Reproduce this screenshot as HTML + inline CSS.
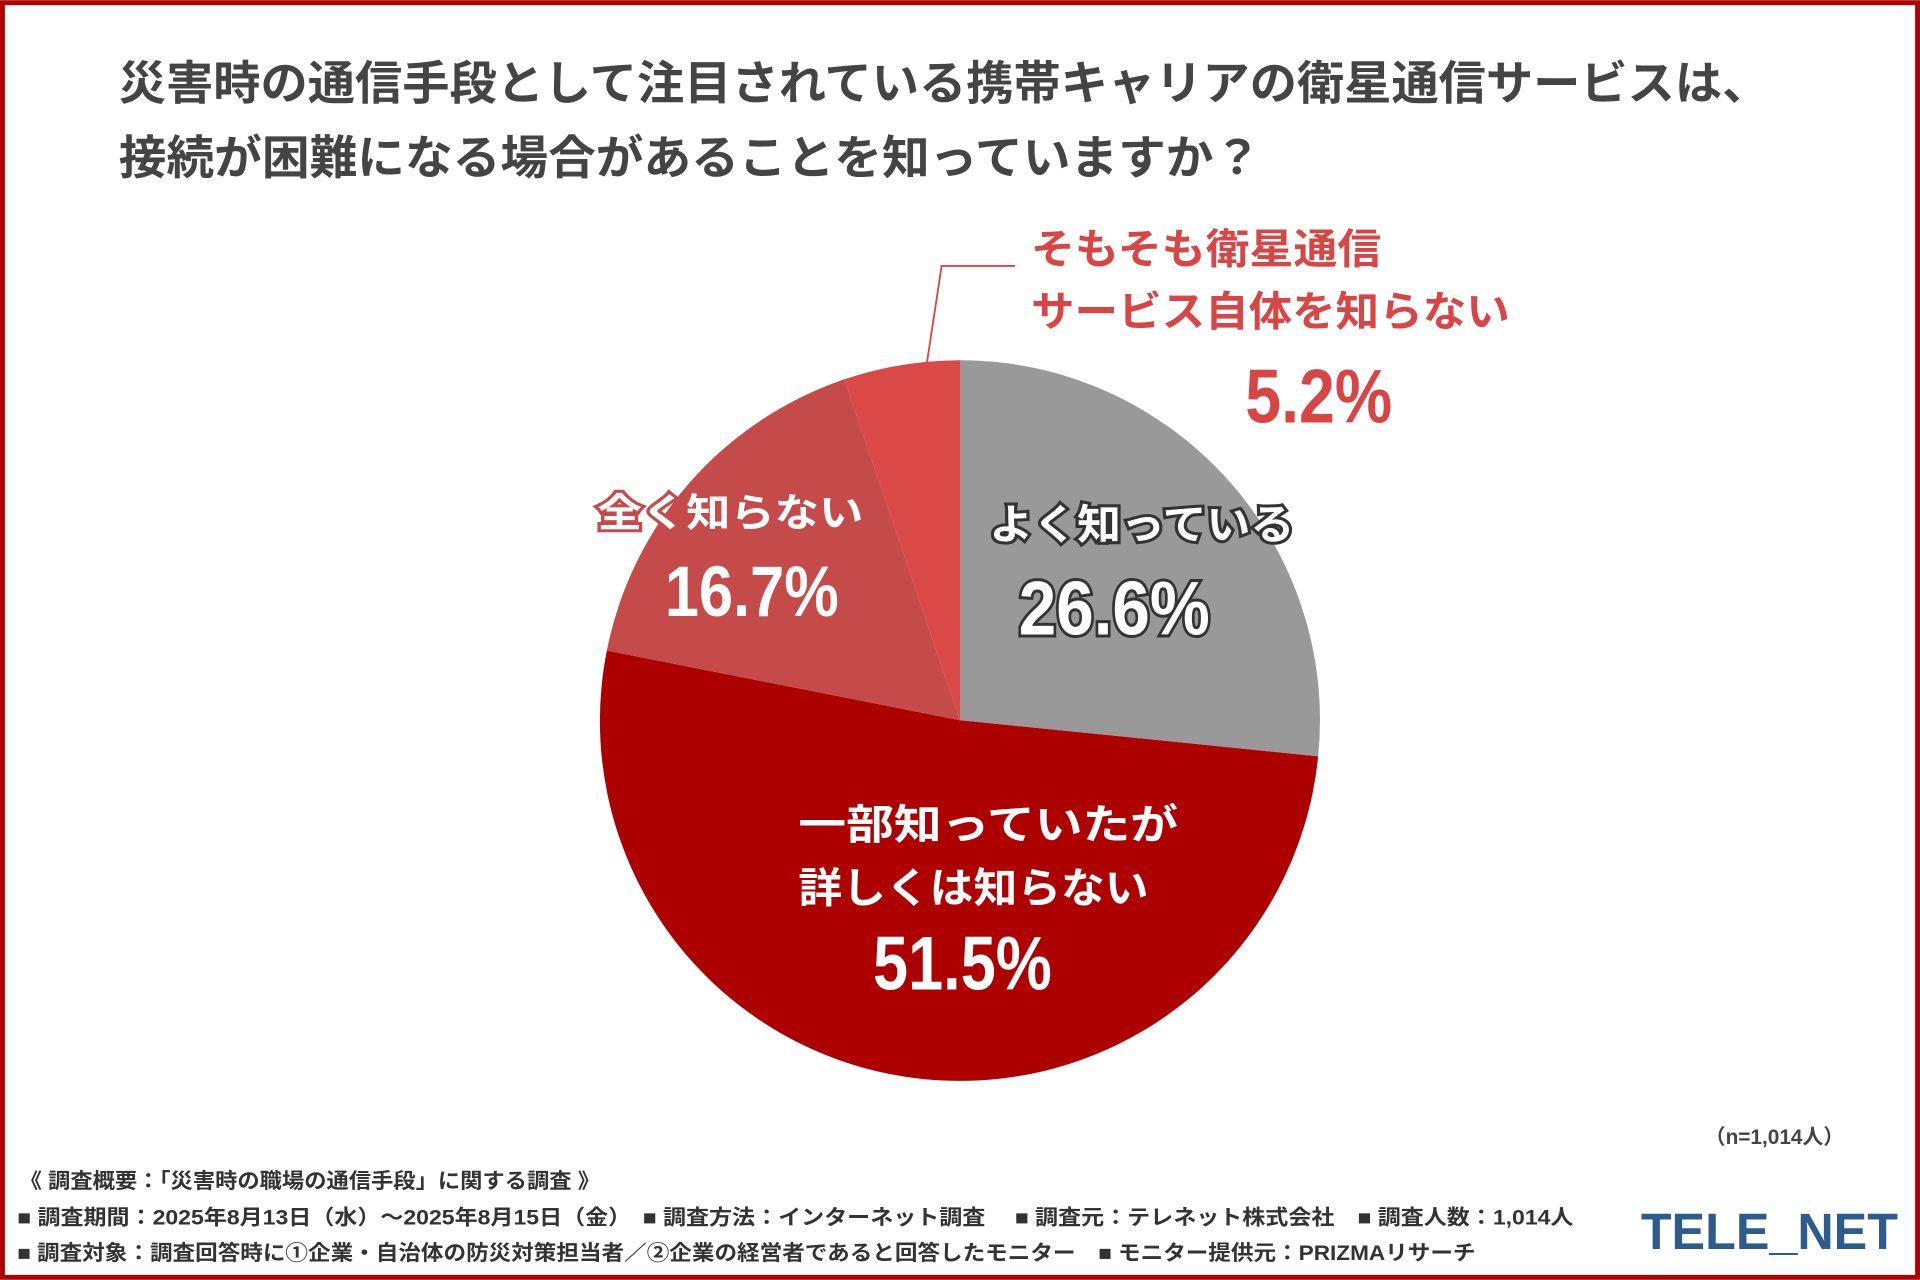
<!DOCTYPE html>
<html><head><meta charset="utf-8"><style>
html,body{margin:0;padding:0;background:#fff}
svg{display:block}
text{font-family:"Liberation Sans","Noto Sans CJK JP",sans-serif;font-weight:bold}
</style></head><body>
<svg width="1920" height="1280" viewBox="0 0 1568 1045" xmlns="http://www.w3.org/2000/svg">
<rect x="0" y="0" width="1568" height="1045" fill="#fff"/>
<rect x="2" y="2" width="1564" height="1041" fill="none" stroke="#b00000" stroke-width="4"/>
<text x="97" y="81" font-size="38" fill="#444" textLength="1348" lengthAdjust="spacingAndGlyphs">災害時の通信手段として注目されている携帯キャリアの衛星通信サービスは、</text>
<text x="97" y="142" font-size="38" fill="#444" textLength="933" lengthAdjust="spacingAndGlyphs">接続が困難になる場合があることを知っていますか？</text>
<path d="M784 588 L784 294 A294 294 0 0 1 1076.5 617.5 Z" fill="#999999"/>
<path d="M784 588 L1076.5 617.5 A294 294 0 1 1 495.6 531.1 Z" fill="#ad0000"/>
<path d="M784 588 L495.6 531.1 A294 294 0 0 1 689.6 309.6 Z" fill="#c54b4b"/>
<path d="M784 588 L689.6 309.6 A294 294 0 0 1 784 294 Z" fill="#db4848"/>
<polyline points="757,296 769,217 829,217" fill="none" stroke="#d94545" stroke-width="1.5"/>
<text x="808" y="440" font-size="34" fill="#fff" stroke="#333" stroke-width="5" paint-order="stroke" textLength="249" lengthAdjust="spacingAndGlyphs">よく知っている</text>
<text x="910" y="518" text-anchor="middle" font-size="62" fill="#fff" stroke="#333" stroke-width="5" paint-order="stroke" textLength="156" lengthAdjust="spacingAndGlyphs">26.6%</text>
<text x="488" y="430" font-size="32" fill="#fff" stroke="#c54b4b" stroke-width="5" paint-order="stroke" textLength="217" lengthAdjust="spacingAndGlyphs">全く知らない</text>
<text x="614" y="503" text-anchor="middle" font-size="58" fill="#fff" textLength="142" lengthAdjust="spacingAndGlyphs">16.7%</text>
<text x="652" y="685" font-size="34" fill="#fff" textLength="310" lengthAdjust="spacingAndGlyphs">一部知っていたが</text>
<text x="652" y="737" font-size="34" fill="#fff" textLength="286" lengthAdjust="spacingAndGlyphs">詳しくは知らない</text>
<text x="786" y="808" text-anchor="middle" font-size="62" fill="#fff" textLength="146" lengthAdjust="spacingAndGlyphs">51.5%</text>
<text x="1077" y="345" text-anchor="middle" font-size="62" fill="#d94545" textLength="120" lengthAdjust="spacingAndGlyphs">5.2%</text>
<text x="842" y="215" font-size="34" fill="#d94545" textLength="286" lengthAdjust="spacingAndGlyphs">そもそも衛星通信</text>
<text x="842" y="266" font-size="34" fill="#d94545" textLength="391" lengthAdjust="spacingAndGlyphs">サービス自体を知らない</text>
<text x="1506" y="934" font-size="17" fill="#444" text-anchor="end">（n=1,014人）</text>
<text x="16" y="970" font-size="17" fill="#333" textLength="474" lengthAdjust="spacingAndGlyphs">《 調査概要：「災害時の職場の通信手段」に関する調査 》</text>
<text x="14" y="1000" font-size="17" fill="#333" textLength="1271" lengthAdjust="spacingAndGlyphs">■ 調査期間：2025年8月13日（水）～2025年8月15日（金）　■ 調査方法：インターネット調査　 ■ 調査元：テレネット株式会社　■ 調査人数：1,014人</text>
<text x="14" y="1029" font-size="17" fill="#333" textLength="1191" lengthAdjust="spacingAndGlyphs">■ 調査対象：調査回答時に①企業・自治体の防災対策担当者／②企業の経営者であると回答したモニター　■ モニター提供元：PRIZMAリサーチ</text>
<text x="1340" y="1020" font-size="42" fill="#2d5b8e" textLength="210" lengthAdjust="spacingAndGlyphs" font-weight="900">TELE_NET</text>
</svg>
</body></html>
